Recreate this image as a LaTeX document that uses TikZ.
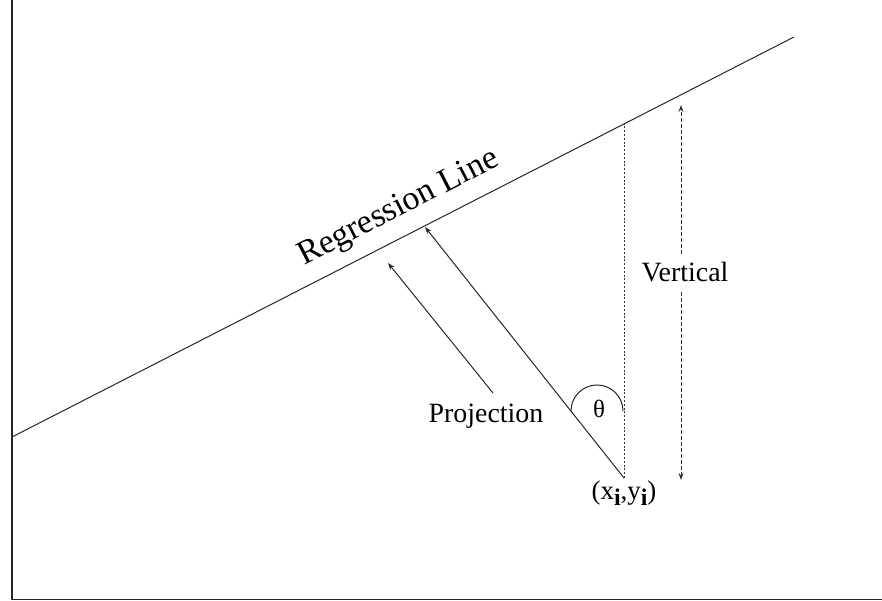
\documentclass[tikz,border=0pt]{standalone}
\usepackage{fontspec}
\setmainfont{Liberation Serif}
\usetikzlibrary{arrows.meta}
\begin{document}
\begin{tikzpicture}[x=1bp,y=1bp,
  axisline/.style={line width=1.4bp,black!85},
  thinline/.style={line width=1bp,black!85},
  dotline/.style={line width=1bp,dash pattern=on 2bp off 1.8bp,black!80},
  dashline/.style={line width=1bp,dash pattern=on 4bp off 2bp,black!80},
  tip/.style={-{Stealth[length=7bp,width=5bp]}},
  lbl/.style={font=\fontsize{28}{30}\selectfont,inner sep=0pt}]
\useasboundingbox (0,0) rectangle (882,601);
% axes
\coordinate (O) at (12,1.5);
\coordinate (T) at (12,601);
\coordinate (R) at (882,1.5);
\draw[axisline] (T) -- (O) -- (R);
% regression line
\coordinate (A) at (12,164);
\coordinate (B) at (794,564);
\draw[thinline] (A) -- (B);
% data point and lines
\coordinate (P) at (624,123);
\coordinate (V) at (624,476.5);
\coordinate (F) at (425,374);
\draw[dotline] (P) -- (V);
\draw[thinline,tip] (P) -- (F);
\coordinate (S1) at (493,208);
\coordinate (S2) at (388,338);
\draw[thinline,tip] (S1) -- (S2);
% double vertical arrow
\coordinate (D1) at (681,496);
\coordinate (D2) at (681,121);
\draw[dashline,{Stealth[length=7bp,width=5bp]}-{Stealth[length=7bp,width=5bp]}] (D2) -- (D1);
% angle arc
\coordinate (C) at (597,190);
\draw[thinline] (623,190) arc[start angle=0,end angle=180,radius=26];
% labels
\node[lbl,anchor=base,fill=white,inner ysep=9bp] (vert) at (685,319) {Vertical};
\node[lbl,anchor=base] (proj) at (486,178) {Projection};
\node[lbl,font=\fontsize{34}{36}\selectfont,anchor=base west,rotate=27.2] (reg) at (304,335) {Regression Line};
\node[font=\fontsize{25}{27}\selectfont,inner sep=0pt,anchor=base] (th) at (599,183) {θ};
\node[font=\fontsize{27}{29}\selectfont,inner sep=0pt,anchor=base] (pt) at (624,101) {(x\raisebox{-6bp}{\textbf{\fontsize{24}{26}\selectfont i}},y\raisebox{-6bp}{\textbf{\fontsize{24}{26}\selectfont i}})};
\end{tikzpicture}
\end{document}
